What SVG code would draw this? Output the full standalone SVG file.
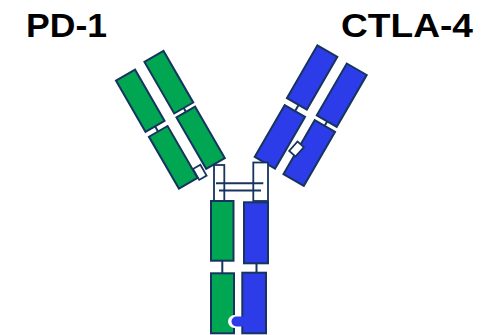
<svg xmlns="http://www.w3.org/2000/svg" width="487" height="335" viewBox="0 0 487 335">
  <style>
    .lbl { font-family: "Liberation Sans", Arial, sans-serif; font-weight: bold; font-size: 34px; fill: #000; }
    .dom { stroke: #16345e; stroke-width: 2; stroke-linejoin: miter; }
    .g { fill: #00a651; }
    .b { fill: #2b3ce8; }
    .hinge { fill: #fff; stroke: #16345e; stroke-width: 1.8; }
    .link { stroke: #16345e; stroke-width: 2; fill: none; }
  </style>

  <!-- labels -->
  <text class="lbl" x="26" y="37" textLength="81" lengthAdjust="spacingAndGlyphs">PD-1</text>
  <text class="lbl" x="341" y="37" textLength="132" lengthAdjust="spacingAndGlyphs">CTLA-4</text>

  <!-- PD-1 Fab arm (green) -->
  <g id="fab-pd1" transform="translate(116,80.7) rotate(-30)">
    <g id="pd1-vl"><rect class="dom g" x="0" y="0" width="22" height="59"/></g>
    <g id="pd1-vh"><rect class="dom g" x="34" y="-2" width="22" height="59.5"/></g>
    <g id="pd1-cl"><rect class="dom g" x="0.5" y="65" width="21.5" height="60"/></g>
    <g id="pd1-ch1"><rect class="dom g" x="34" y="62" width="21.5" height="59.5"/></g>
    <g id="pd1-elbow"><rect class="hinge" x="22.5" y="115" width="8.5" height="12.5"/></g>
  </g>

  <!-- CTLA-4 Fab arm (blue), mirrored -->
  <g id="fab-ctla4" transform="translate(366.7,75) scale(-1,1) rotate(-30)">
    <g id="ctla4-vl"><rect class="dom b" x="0" y="0" width="23" height="60"/></g>
    <g id="ctla4-vh"><rect class="dom b" x="34.5" y="-1" width="23" height="61"/></g>
    <g id="ctla4-cl"><rect class="dom b" x="-1" y="65" width="23.5" height="62.5"/></g>
    <g id="ctla4-ch1"><rect class="dom b" x="32.5" y="67" width="23.5" height="60"/></g>
    <g id="ctla4-elbow"><rect class="hinge" x="19.5" y="93" width="8.5" height="12.5" transform="rotate(-12 23.75 99.25)"/></g>
  </g>

  <!-- hinge region -->
  <g id="hinge-left"><rect class="hinge" x="214" y="165" width="10.3" height="36"/></g>
  <g id="hinge-right"><rect class="hinge" x="253.3" y="162.5" width="14.7" height="38.5"/></g>

  <!-- Fc stem -->
  <g id="fc-green-ch2"><rect class="dom g" x="211" y="201" width="22.5" height="59.7"/></g>
  <g id="fc-blue-ch2"><rect class="dom b" x="244" y="202.3" width="24" height="61"/></g>
  <g id="fc-green-ch3">
    <rect class="dom g" x="211" y="273.3" width="23" height="60"/>
    <circle cx="234.5" cy="321.5" r="6.5" fill="#fff"/>
  </g>
  <g id="fc-blue-ch3">
    <rect class="dom b" x="242.3" y="272.7" width="23.7" height="60.6"/>
    <path class="b" d="M244 316.5 H236.5 A5 5 0 0 0 236.5 326.5 H244 Z"/>
  </g>

  <!-- connectors -->
  <g id="connectors">
    <g transform="translate(116,80.7) rotate(-30)">
      <line class="link" x1="11" y1="59" x2="11" y2="65"/>
      <line class="link" x1="45" y1="57.5" x2="45" y2="62"/>
    </g>
    <g transform="translate(366.7,75) scale(-1,1) rotate(-30)">
      <line class="link" x1="11" y1="60" x2="11" y2="65"/>
      <line class="link" x1="44" y1="60" x2="44" y2="67"/>
    </g>
    <line class="link" x1="216" y1="183.3" x2="263.3" y2="183.3"/>
    <line class="link" x1="219" y1="190.5" x2="261" y2="190.5"/>
    <line class="link" x1="222.3" y1="260.7" x2="222.3" y2="273.3"/>
    <line class="link" x1="256.5" y1="263.3" x2="256.5" y2="272.7"/>
  </g>
</svg>
